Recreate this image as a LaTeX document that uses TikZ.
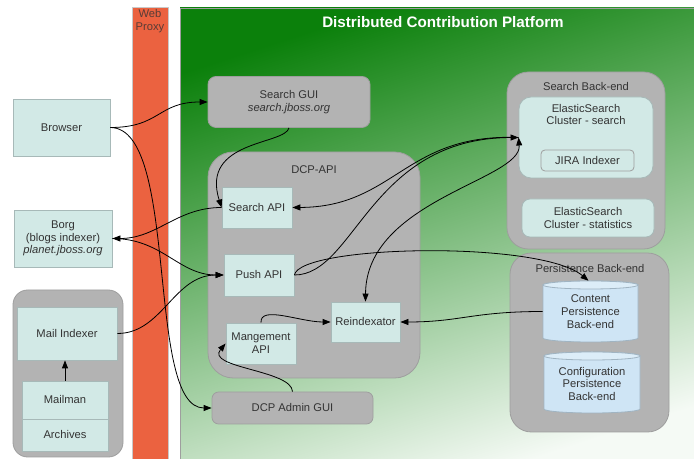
\documentclass[tikz,border=0pt]{standalone}
\usepackage{fontspec}
\setmainfont{Liberation Sans}
\usetikzlibrary{arrows.meta,calc}
\definecolor{cyanbox}{HTML}{D2E9E6}
\definecolor{cyanline}{HTML}{A7B9B8}
\definecolor{graybox}{HTML}{B3B3B3}
\definecolor{grayline}{HTML}{9E9E9E}
\definecolor{txtgray}{HTML}{333333}
\definecolor{proxyfill}{HTML}{EB6240}
\definecolor{proxyline}{HTML}{C9C9C9}
\definecolor{gdark}{HTML}{0B800B}
\definecolor{gmid}{HTML}{6CB86C}
\definecolor{glight}{HTML}{F5FAF5}
\definecolor{cylfill}{HTML}{CFE5F5}
\definecolor{cyltopfill}{HTML}{DCEDF8}
\definecolor{cylline}{HTML}{A0B4C2}
\newcommand\drawcyl[3]{%
  \draw[cylbody] ($(#1)+(-#2,-#3+4)$) -- ($(#1)+(-#2,#3-4)$)
    arc[start angle=180,end angle=360,x radius=#2*0.75pt,y radius=3pt]
    -- ($(#1)+(#2,-#3+4)$)
    arc[start angle=0,end angle=180,x radius=#2*0.75pt,y radius=3pt] -- cycle;
  \draw[cyltop] ($(#1)+(0,-#3+4)$) ellipse[x radius=#2*0.75pt,y radius=3pt];}
\begin{document}
\begin{tikzpicture}[x=0.75pt,y=-0.75pt,
  every node/.style={inner sep=0pt,text=txtgray,font=\fontsize{8.4}{9.6}\selectfont,align=center},
  sz/.style 2 args={minimum width=#1*0.75pt,minimum height=#2*0.75pt},
  cbox/.style={draw=cyanline,fill=cyanbox,line width=0.6pt},
  gcont/.style={draw=grayline,fill=graybox,line width=0.6pt},
  cylbody/.style={draw=cylline,fill=cylfill,line width=0.6pt},
  cyltop/.style={draw=cylline,fill=cyltopfill,line width=0.6pt},
  conn/.style={draw=black,line width=0.6pt,-{Triangle[length=6pt,width=4.5pt]}},
  dconn/.style={draw=black,line width=0.6pt,{Triangle[length=6pt,width=4.5pt]}-{Triangle[length=6pt,width=4.5pt]}}
]
\clip (0,0) rectangle (694,459);
\fill[white] (0,0) rectangle (694,459);

% Web proxy
\node[draw=proxyline,fill=proxyfill,line width=0.6pt,sz={36}{470},anchor=north] (proxy) at (150,7) {};
\node[text=txtgray!80!proxyfill] (proxytitle) at (150,21.5) {Web\\Proxy};

% Platform area
\shade[top color=gdark,middle color=gmid,bottom color=glight,shading angle=18] (180,8) rectangle (700,470);
\draw[grayline,line width=0.6pt] (180,470) -- (180,8) -- (700,8);
\node[text=white,font=\fontsize{11.4}{13}\selectfont\bfseries] (dcptitle) at (443,22) {Distributed Contribution Platform};

% Left column
\node[cbox,sz={97}{57}] (browser) at (61.5,127.5) {Browser};
\node[cbox,sz={98}{57}] (borg) at (63,238.5) {Borg\\(blogs indexer)\\\textit{planet.jboss.org}};
\node[gcont,sz={110}{167},rounded corners=11pt] (mailc) at (68,373.5) {};
\node[cbox,sz={100}{53}] (mailidx) at (67,333.5) {Mail Indexer};
\node[cbox,sz={86}{38}] (mailman) at (65,400) {Mailman};
\node[cbox,sz={86}{32}] (archives) at (65,435) {Archives};

% Search GUI
\node[gcont,sz={162}{51},rounded corners=6pt] (sgui) at (289,102) {Search GUI\\\textit{search.jboss.org}};

% DCP-API
\node[gcont,sz={212}{226},rounded corners=19pt] (dcpapi) at (314,265) {};
\node (dcpapititle) at (314,170) {DCP-API};
\node[cbox,sz={70}{41}] (sapi) at (257,207.5) {Search API};
\node[cbox,sz={70}{42}] (papi) at (259,275) {Push API};
\node[cbox,sz={69}{40}] (reidx) at (365.5,322) {Reindexator};
\node[cbox,sz={70}{41}] (mgmt) at (261,343.5) {Mangement\\API};

% Admin GUI
\node[gcont,sz={161}{32},rounded corners=5pt] (admin) at (292.5,408) {DCP Admin GUI};

% Search back-end
\node[gcont,sz={158}{177},rounded corners=16pt] (sbe) at (586,160.5) {};
\node (sbetitle) at (586,87) {Search Back-end};
\node[cbox,sz={134}{81},rounded corners=9pt] (es) at (586,137.5) {};
\node (estext) at (586,114.5) {ElasticSearch\\Cluster - search};
\node[draw=grayline,fill=cyanbox,line width=0.6pt,sz={93}{21},rounded corners=3pt] (jira) at (587.5,160.5) {JIRA Indexer};
\node[cbox,sz={132}{38},rounded corners=6pt] (esstat) at (588,218) {ElasticSearch\\Cluster - statistics};

% Persistence back-end
\node[gcont,sz={159}{179},rounded corners=16pt] (pbe) at (589.5,342.5) {};
\coordinate (contentc) at (590.5,311.5);
\coordinate (configc) at (592,382.5);
\drawcyl{contentc}{47.5}{30.5}
\drawcyl{configc}{48}{30.5}
\node (pbetitle) at (590,269) {Persistence Back-end};
\node[sz={95}{61}] (content) at (contentc) {Content\\Persistence\\Back-end};
\node[sz={96}{61}] (config) at ($(configc)+(0,1.5)$) {Configuration\\Persistence\\Back-end};

% Connectors
\draw[conn] (browser.east) .. controls +(50,0) and +(-50,0) .. (sgui.west);
\draw[conn] (browser.east) .. controls (180,128) and (145,408) .. (admin.west);
\draw[conn] (sgui.south) .. controls (285,145) and (200,140) .. (sapi.west);
\draw[conn] (sapi.west) .. controls +(-45,0) and +(45,0) .. (borg.east);
\draw[conn] (borg.east) .. controls +(50,0) and +(-45,0) .. (papi.west);
\draw[conn] (mailidx.east) .. controls +(45,0) and +(-50,0) .. (papi.west);
\draw[conn] (es.west) .. controls (405,133) and (395,207) .. (sapi.east);
\draw[conn] (papi.east) .. controls (355,275) and (370,138) .. (es.west);
\draw[conn] (papi.east) .. controls (300,245) and (540,240) .. ($(content.north)+(-2,0)$);
\draw[dconn] (reidx.north) .. controls (366,200) and (522,180) .. (es.west);
\draw[conn] (content.west) .. controls +(-70,0) and +(60,0) .. (reidx.east);
\draw[conn] (mgmt.north) .. controls (260,305) and (300,322) .. (reidx.west);
\draw[conn] (admin.north) .. controls (292,370) and (205,368) .. (mgmt.west);
\draw[conn] (mailman.north) -- (mailman.north |- mailidx.south);
\end{tikzpicture}
\end{document}
